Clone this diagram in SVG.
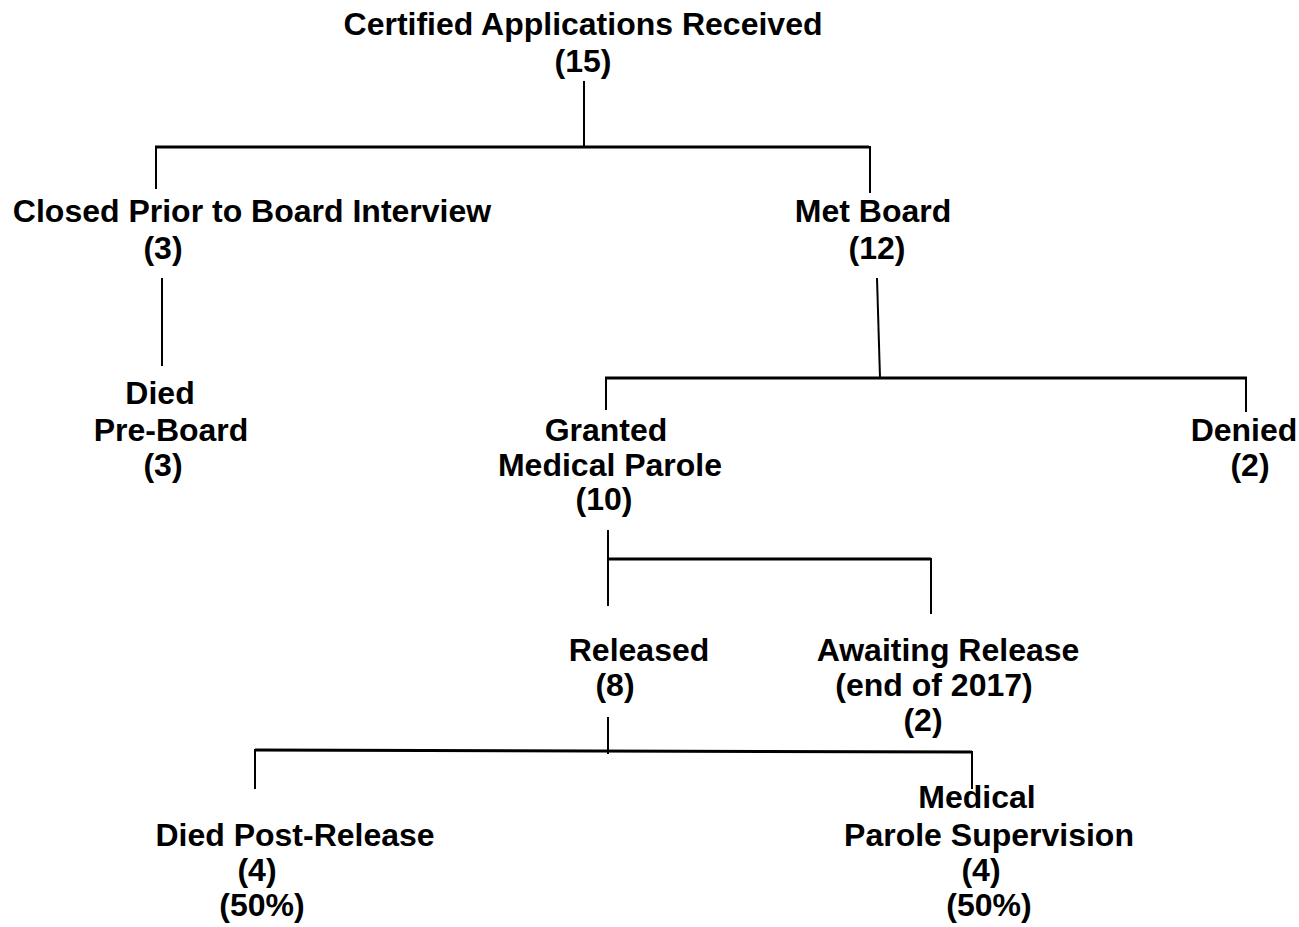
<svg xmlns="http://www.w3.org/2000/svg" width="1299" height="927" viewBox="0 0 1299 927">
<style>
text{font-family:"Liberation Sans",Arial,sans-serif;font-weight:bold;font-size:32px;fill:#000;text-anchor:middle}
line{stroke:#000;stroke-width:2}
.h{stroke-width:3}
</style>
<rect width="1299" height="927" fill="#fff"/>
<g id="connectors">
<line x1="584" y1="81" x2="584" y2="148"/>
<line class="h" x1="155" y1="147" x2="869" y2="147"/>
<line x1="156" y1="146" x2="156" y2="189"/>
<line x1="870" y1="146" x2="870" y2="193"/>
<line x1="162" y1="278" x2="162" y2="366"/>
<line x1="877" y1="278" x2="880" y2="378"/>
<line class="h" x1="605" y1="378" x2="1247" y2="378"/>
<line x1="606" y1="377" x2="606" y2="410"/>
<line x1="1246" y1="377" x2="1246" y2="412"/>
<line x1="608" y1="530" x2="608" y2="606"/>
<line class="h" x1="608" y1="559" x2="931" y2="559"/>
<line x1="931" y1="558" x2="931" y2="614"/>
<line x1="608" y1="717" x2="608" y2="754"/>
<line class="h" x1="255" y1="750" x2="972" y2="752"/>
<line x1="255" y1="749" x2="255" y2="789"/>
<line x1="972" y1="751" x2="972" y2="789"/>
</g>
<g id="n-certified">
<text x="583" y="35">Certified Applications Received</text>
<text x="583" y="72">(15)</text>
</g>
<g id="n-closed">
<text x="252" y="222">Closed Prior to Board Interview</text>
<text x="163" y="259">(3)</text>
</g>
<g id="n-metboard">
<text x="873" y="222">Met Board</text>
<text x="877" y="259">(12)</text>
</g>
<g id="n-died-pre">
<text x="160" y="404">Died</text>
<text x="171" y="441">Pre-Board</text>
<text x="163" y="476">(3)</text>
</g>
<g id="n-granted">
<text x="606" y="441">Granted</text>
<text x="610" y="476">Medical Parole</text>
<text x="604" y="510">(10)</text>
</g>
<g id="n-denied">
<text x="1244" y="441">Denied</text>
<text x="1250" y="476">(2)</text>
</g>
<g id="n-released">
<text x="639" y="661">Released</text>
<text x="615" y="696">(8)</text>
</g>
<g id="n-awaiting">
<text x="948" y="661">Awaiting Release</text>
<text x="934" y="696">(end of 2017)</text>
<text x="923" y="731">(2)</text>
</g>
<g id="n-died-post">
<text x="295" y="846">Died Post-Release</text>
<text x="257" y="881">(4)</text>
<text x="262" y="916">(50%)</text>
</g>
<g id="n-supervision">
<text x="977" y="808">Medical</text>
<text x="989" y="846">Parole Supervision</text>
<text x="981" y="881">(4)</text>
<text x="989" y="916">(50%)</text>
</g>
</svg>
